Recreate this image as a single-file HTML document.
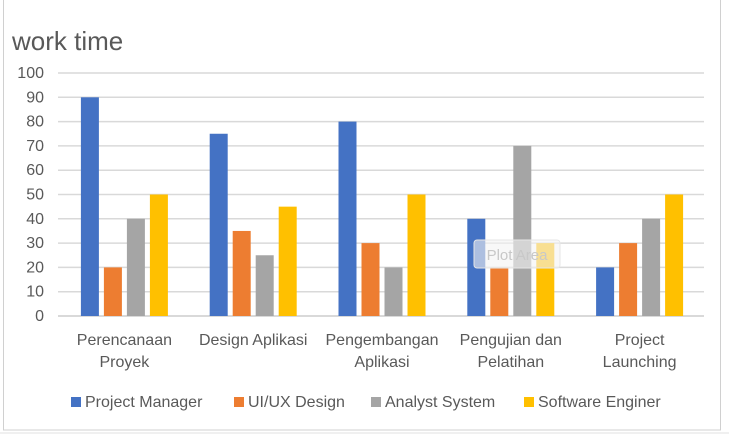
<!DOCTYPE html>
<html><head><meta charset="utf-8"><style>
body{margin:0;width:729px;height:436px;background:#fff;overflow:hidden;font-family:"Liberation Sans",sans-serif}
</style></head><body>
<svg width="729" height="436">
<line x1="0" y1="433" x2="729" y2="433" stroke="#e0e0e0"/>
<rect x="3.5" y="-2" width="717" height="432" fill="#fff" stroke="#d0d0d0"/>
<text x="12" y="50" font-size="26" fill="#595959">work time</text>
<g id="grid"></g><g id="bars"></g><g id="labels"></g><g id="legend"></g>
<rect x="474" y="240" width="86" height="28" rx="3" fill="#f4f4f4" fill-opacity="0.6" stroke="#e6e6e6"/>
<text x="517" y="260" font-size="15" fill="#c8c8c8" text-anchor="middle">Plot Area</text>
</svg>
<script>
const categories=[["Perencanaan","Proyek"],["Design Aplikasi"],["Pengembangan","Aplikasi"],["Pengujian dan","Pelatihan"],["Project","Launching"]];
const seriesNames=["Project Manager","UI/UX Design","Analyst System","Software Enginer"];
const projectManager=[90,75,80,40,20];
const uiuxDesign=[20,35,30,20,30];
const analystSystem=[40,25,20,70,40];
const softwareEnginer=[50,45,50,30,50];
const yTicks=[0,10,20,30,40,50,60,70,80,90,100];
const colors=["#4472c4","#ed7d31","#a5a5a5","#ffc000"];
const series=[projectManager,uiuxDesign,analystSystem,softwareEnginer];
const NS="http://www.w3.org/2000/svg";
const X0=60,X1=704,Y0=316,Y100=73;
const y=v=>Y0-(Y0-Y100)*v/100;
const gw=(X1-X0)/categories.length;
const xc=i=>X0+gw*(i+0.5);
function mk(t,a,p){const e=document.createElementNS(NS,t);for(const k in a)e.setAttribute(k,a[k]);p.appendChild(e);return e;}
const grid=document.getElementById('grid'),bars=document.getElementById('bars'),labels=document.getElementById('labels'),legend=document.getElementById('legend');
yTicks.forEach(t=>{
 const l=mk('line',{x1:X0-2,x2:X1,y1:y(t),y2:y(t),stroke:'#d9d9d9','stroke-width':t===0?2:1.5},grid);
 
 
 const tx=mk('text',{x:44,y:y(t)+5,'font-size':16,fill:'#595959','text-anchor':'end'},grid);
 tx.textContent=t;
 
 
});
const offs=[-34.5,-11.5,11.5,34.5],bw=18;
series.forEach((s,si)=>s.forEach((v,i)=>{
 const r=mk('rect',{x:xc(i)+offs[si]-bw/2,y:y(v),width:bw,height:Y0-y(v),fill:colors[si]},bars);
 
 
}));
categories.forEach((c,i)=>c.forEach((ln,j)=>{
 const t=mk('text',{x:xc(i),y:345+j*22,'font-size':16,fill:'#595959','text-anchor':'middle'},labels);
 t.textContent=ln;
 
 
}));
const lx=[71,234,371,524];
seriesNames.forEach((n,i)=>{
 const r=mk('rect',{x:lx[i],y:397,width:10,height:10,fill:colors[i]},legend);
 
 
 const t=mk('text',{x:lx[i]+14,y:407,'font-size':16,fill:'#595959'},legend);
 t.textContent=n;
 
 
});
</script>
</body></html>
